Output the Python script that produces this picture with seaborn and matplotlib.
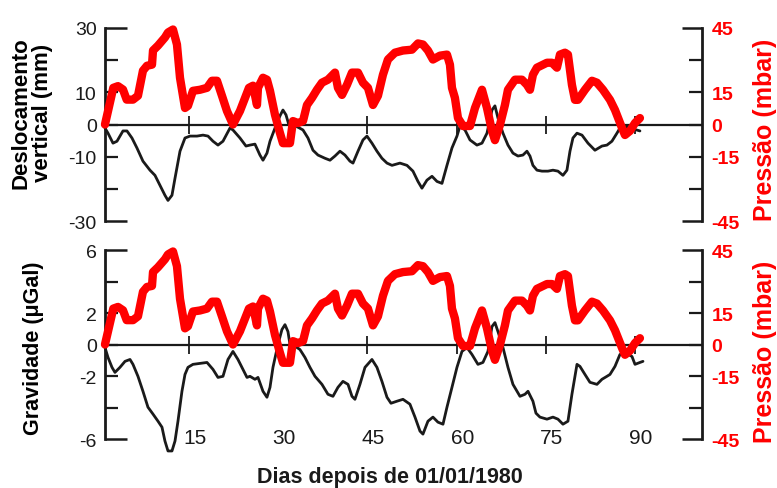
import matplotlib
matplotlib.use("Agg")
import matplotlib.pyplot as plt
from matplotlib.transforms import blended_transform_factory, ScaledTranslation
import seaborn as sns
import pandas as pd

# Atmospheric pressure (mbar), same record shown in both panels
dias_p = [0.84, 2.24, 3.03, 3.87, 4.49, 5.55, 6.39, 7.23, 7.91, 8.75, 8.92, 9.76, 10.93, 11.44,
          12.28, 12.95, 13.46, 14.30, 14.80, 15.64, 16.82, 18.00, 18.84, 19.68, 20.52, 21.36,
          22.37, 23.55, 25.06, 25.74, 26.41, 26.58, 27.42, 28.09, 28.60, 29.44, 30.28, 30.78,
          31.96, 32.46, 33.31, 34.15, 34.82, 35.66, 36.50, 37.34, 38.35, 39.53, 40.03, 40.71,
          41.55, 42.39, 43.40, 44.24, 45.08, 45.92, 46.76, 47.60, 48.44, 49.62, 50.97, 52.48,
          53.49, 54.33, 55.17, 56.01, 57.19, 58.37, 58.87, 59.21, 59.71, 60.22, 61.06, 62.24,
          63.08, 64.26, 65.10, 65.94, 66.44, 67.28, 68.12, 68.63, 69.81, 70.98, 71.82, 72.33,
          72.83, 73.50, 75.19, 76.03, 76.87, 77.38, 78.22, 78.72, 79.39, 79.90, 80.40, 81.58,
          82.76, 83.60, 84.61, 85.79, 86.63, 87.81, 88.31, 89.15, 90.00, 90.83]
pressao = [0.0, 17.1, 17.9, 16.3, 11.6, 11.6, 13.4, 25.1, 27.4, 27.9, 34.5, 36.8, 40.6, 42.9,
           44.3, 37.3, 21.8, 7.7, 8.7, 15.7, 16.2, 17.1, 20.4, 20.4, 13.4, 6.3,
           0.0, 6.3, 17.1, 18.1, 9.1, 17.1, 21.8, 20.9, 15.7, 4.5, -4.0, -8.7,
           -8.7, 1.6, 0.7, 1.6, 9.1, 12.4, 16.2, 19.5, 20.9, 24.2, 17.1, 13.8,
           18.5, 24.2, 24.2, 19.5, 17.1, 9.1, 13.4, 23.2, 30.3, 33.5, 34.5, 34.9,
           37.8, 37.3, 34.5, 30.3, 32.1, 32.6, 27.9, 17.1, 12.4, 3.0, -0.7, -0.7,
           7.7, 16.2, 7.7, -3.0, -7.3, -0.2, 9.1, 16.2, 20.9, 20.9, 18.5, 16.2,
           23.2, 26.5, 28.8, 28.8, 26.5, 32.6, 33.5, 32.6, 18.5, 11.5, 11.5, 16.2,
           20.4, 19.5, 16.2, 11.5, 6.8, -1.6, -4.9, -3.0, 0.7, 3.0]

# Vertical displacement (mm)
dias_d = [0.84, 1.35, 2.19, 2.86, 3.87, 4.54, 5.38, 6.22, 7.23, 8.41, 9.25, 10.09, 10.93, 11.44,
          12.11, 12.62, 13.46, 14.30, 15.14, 16.32, 17.33, 18.17, 19.01, 19.85, 20.69, 21.87,
          22.37, 23.55, 24.56, 25.23, 26.07, 26.91, 27.42, 28.09, 28.60, 29.44, 30.28, 30.78,
          31.29, 31.79, 32.97, 34.15, 34.99, 35.83, 36.67, 37.85, 38.69, 39.53, 40.37, 41.21,
          42.05, 42.56, 43.40, 44.24, 44.91, 45.75, 46.59, 47.43, 48.28, 49.12, 50.46, 51.64,
          52.65, 53.49, 54.16, 55.00, 55.85, 56.69, 57.53, 58.37, 59.21, 60.05, 60.56, 61.40,
          62.24, 63.41, 64.26, 65.10, 65.94, 66.44, 66.95, 67.79, 68.63, 69.47, 70.31, 71.15,
          71.82, 72.33, 72.83, 73.51, 74.35, 75.36, 76.20, 77.04, 77.88, 78.55, 79.06, 79.56,
          80.24, 81.08, 82.09, 83.26, 84.44, 85.28, 86.12, 86.96, 87.47, 88.31, 89.15, 90.83]
deslocamento = [-1.1, -2.7, -5.8, -5.2, -2.0, -2.0, -4.2, -7.3, -11.4, -14.2, -15.8, -18.9, -22.0, -23.6,
                -22.0, -16.7, -8.3, -4.2, -3.6, -3.6, -3.3, -3.6, -5.2, -6.4, -5.2, -1.1,
                -1.7, -4.2, -6.7, -6.4, -6.1, -9.5, -11.1, -8.9, -5.2, -1.1, 2.7, 4.5,
                3.0, -0.2, -0.5, -1.7, -4.2, -8.0, -9.5, -10.5, -11.1, -9.8, -8.3, -9.5,
                -11.4, -12.0, -8.3, -4.8, -3.6, -5.8, -8.3, -10.5, -12.0, -12.7, -12.0, -12.7,
                -14.5, -17.7, -19.8, -17.3, -16.1, -17.7, -18.3, -12.7, -7.3, -3.6, -0.5, -1.7,
                -4.8, -6.4, -5.8, -2.7, 4.5, 5.8, 2.0, -2.7, -6.4, -8.9, -9.8, -9.5,
                -8.3, -9.8, -12.7, -14.2, -14.5, -14.5, -14.2, -14.5, -15.8, -14.2, -8.3, -4.2,
                -2.7, -3.3, -5.8, -8.0, -6.7, -6.4, -5.2, -2.7, -1.1, -0.5, -1.1, -2.0]

# Gravity (uGal)
dias_g = [0.84, 1.35, 2.02, 2.52, 3.36, 4.21, 5.05, 5.55, 6.39, 7.23, 8.07, 8.92, 9.76, 10.43,
          10.93, 11.44, 12.11, 12.62, 13.12, 13.79, 14.30, 14.80, 15.64, 16.82, 18.00, 19.01,
          19.85, 20.69, 21.53, 22.37, 23.21, 24.05, 24.73, 25.23, 26.07, 26.58, 27.42, 28.09,
          28.60, 29.10, 29.94, 30.61, 31.12, 31.62, 31.96, 33.14, 33.64, 34.48, 35.32, 36.17,
          37.34, 38.35, 39.19, 40.03, 40.87, 41.72, 42.39, 42.89, 43.73, 44.58, 45.75, 46.59,
          47.43, 48.28, 48.95, 49.96, 50.97, 52.14, 52.99, 53.83, 54.33, 55.17, 56.01, 56.85,
          57.70, 58.37, 59.21, 60.05, 60.89, 61.73, 62.57, 63.58, 64.42, 65.26, 65.94, 66.44,
          66.95, 67.79, 68.63, 69.47, 70.65, 71.49, 72.00, 72.83, 73.34, 74.01, 75.19, 76.20,
          77.04, 77.88, 78.72, 79.39, 80.24, 80.74, 81.58, 82.42, 83.60, 84.44, 85.28, 85.79,
          86.63, 87.47, 88.31, 89.49, 90.00, 90.83, 91.34]
gravidade = [-0.19, -0.82, -1.45, -1.77, -1.45, -1.07, -0.95, -1.26, -2.02, -2.97, -3.98, -4.42, -4.87, -5.25,
             -6.13, -6.76, -6.76, -6.13, -4.87, -2.97, -1.90, -1.45, -1.26, -1.20, -1.14, -1.58,
             -2.09, -2.02, -0.95, -0.44, -0.95, -1.58, -2.09, -2.02, -2.21, -2.09, -2.97, -3.35,
             -2.72, -1.45, 0.0, 0.95, 1.26, 0.82, 0.0, -0.19, -0.32, -0.82, -1.45, -2.02,
             -2.53, -3.16, -3.29, -2.72, -2.34, -2.53, -3.29, -3.48, -2.53, -1.45, -0.95, -1.45,
             -2.34, -3.35, -3.73, -3.60, -3.48, -3.79, -4.61, -5.50, -5.69, -4.87, -4.61, -4.93,
             -5.06, -3.98, -2.72, -1.45, -0.44, -0.19, -0.63, -1.26, -1.14, -0.44, 1.14, 1.39,
             0.82, -0.19, -1.45, -2.53, -3.29, -3.16, -2.97, -3.60, -4.36, -4.61, -4.74, -4.61,
             -4.74, -5.06, -4.87, -3.16, -1.26, -1.39, -1.90, -2.40, -2.53, -2.21, -2.02, -1.90,
             -1.39, -0.63, -0.51, -0.76, -1.26, -1.14, -1.07]

dias_ticks = [15, 30, 45, 60, 75, 90]

desloc_lim = 30
desloc_labels = {30: "30", 10: "10", 0: "0", -10: "-10", -30: "-30"}
desloc_minor = [-20, -10, 0, 10, 20]
grav_lim = 6
grav_labels = {6: "6", 2: "2", 0: "0", -2: "-2", -6: "-6"}
grav_minor = [-4, -2, 0, 2, 4]
pres_lim = 45
pres_labels = {45: "45", 15: "15", 0: "0", -15: "-15", -45: "-45"}
pres_minor = [-30, -15, 0, 15, 30]

sns.set_style("white")
plt.rcParams["font.family"] = ["Liberation Sans", "DejaVu Sans"]

NARROW = ["Liberation Sans Narrow", "Liberation Sans", "DejaVu Sans"]
RED = "#ff0000"
INK = "#1a1a1a"

fig = plt.figure(figsize=(7.77, 4.89), dpi=100)
ax_top = fig.add_axes([0.1351, 0.5460, 0.7683, 0.3947])
ax_bot = fig.add_axes([0.1351, 0.1002, 0.7683, 0.3865])

df_p = pd.DataFrame({"dia": dias_p, "valor": pressao})
df_d = pd.DataFrame({"dia": dias_d, "valor": deslocamento})
df_g = pd.DataFrame({"dia": dias_g, "valor": gravidade})


def style_side(ax, lim, minor_vals, labels, side, length_major, length_minor, color, font, size, weight, pad):
    ax.set_ylim(-lim, lim)
    ax.set_yticks([-lim, lim])
    ax.set_yticklabels([labels[-lim], labels[lim]])
    ax.set_yticks(minor_vals, minor=True)
    ax.set_yticklabels([labels.get(v, "") for v in minor_vals], minor=True)
    kw = dict(axis="y", direction="in", color=INK, labelcolor=color, pad=pad,
              left=(side == "left"), right=(side == "right"),
              labelleft=(side == "left"), labelright=(side == "right"))
    ax.tick_params(which="major", length=length_major, width=1.8, **kw)
    ax.tick_params(which="minor", length=length_minor, width=1.6, **kw)
    for lbl in ax.get_yticklabels(which="both"):
        lbl.set_fontfamily(font)
        lbl.set_fontsize(size)
        lbl.set_fontweight(weight)


def draw_panel(ax, df_black, lim, minor_vals, labels):
    sns.lineplot(data=df_black, x="dia", y="valor", ax=ax, color=INK, lw=2.0,
                 errorbar=None, sort=False, clip_on=False)
    ax.set_xlim(0.84, 101.26)
    for s in ("top", "right"):
        ax.spines[s].set_visible(False)
    ax.spines["left"].set_linewidth(2.0)
    ax.spines["left"].set_color(INK)
    ax.spines["bottom"].set_position(("data", 0))
    ax.spines["bottom"].set_linewidth(1.6)
    ax.spines["bottom"].set_color(INK)
    ax.set_xticks(dias_ticks)
    ax.tick_params(axis="x", direction="inout", length=13, width=1.3, color=INK,
                   labelbottom=False, bottom=True)
    style_side(ax, lim, minor_vals, labels, "left", 15.5, 9.0, INK, NARROW, 14, "normal", 6)
    ax.set_xlabel("")
    ax.set_ylabel("")

    tw = ax.twinx()
    sns.lineplot(data=df_p, x="dia", y="valor", ax=tw, color=RED, lw=6.0,
                 errorbar=None, sort=False, clip_on=False)
    for s in ("top", "left", "bottom"):
        tw.spines[s].set_visible(False)
    tw.spines["right"].set_linewidth(2.0)
    tw.spines["right"].set_color(INK)
    style_side(tw, pres_lim, pres_minor, pres_labels, "right", 14.5, 9.5, RED,
               ["Liberation Sans", "DejaVu Sans"], 14, "bold", 7)
    tw.set_ylabel("")
    tw.set_xlabel("")
    return tw


draw_panel(ax_top, df_d, desloc_lim, desloc_minor, desloc_labels)
draw_panel(ax_bot, df_g, grav_lim, grav_minor, grav_labels)

# Day labels under the lower panel
trans = blended_transform_factory(ax_bot.transData, ax_bot.transAxes) + \
    ScaledTranslation(4 / 72, 0, fig.dpi_scale_trans)
for t in dias_ticks:
    ax_bot.text(t, 0.01, str(t), transform=trans, ha="center", va="center",
                fontsize=15, family=NARROW, color=INK)

# Axis titles
fig.text(32 / 777, 1 - 113 / 489, "Deslocamento\nvertical (mm)", rotation=90,
         ha="center", va="center", multialignment="center", fontsize=16,
         fontweight="bold", color="black", linespacing=1.0)
fig.text(34 / 777, 1 - 348 / 489, "Gravidade (μGal)", rotation=90,
         ha="center", va="center", fontsize=15.5, fontweight="bold", color="black")
fig.text(765 / 777, 1 - 130 / 489, "Pressão (mbar)", rotation=90,
         ha="center", va="center", fontsize=18, fontweight="bold", color=RED)
fig.text(765 / 777, 1 - 352 / 489, "Pressão (mbar)", rotation=90,
         ha="center", va="center", fontsize=18, fontweight="bold", color=RED)
fig.text(390 / 777, 1 - 478 / 489, "Dias depois de 01/01/1980",
         ha="center", va="center", fontsize=15.5, fontweight="bold", color=INK)

fig.savefig("out.png", dpi=100)
